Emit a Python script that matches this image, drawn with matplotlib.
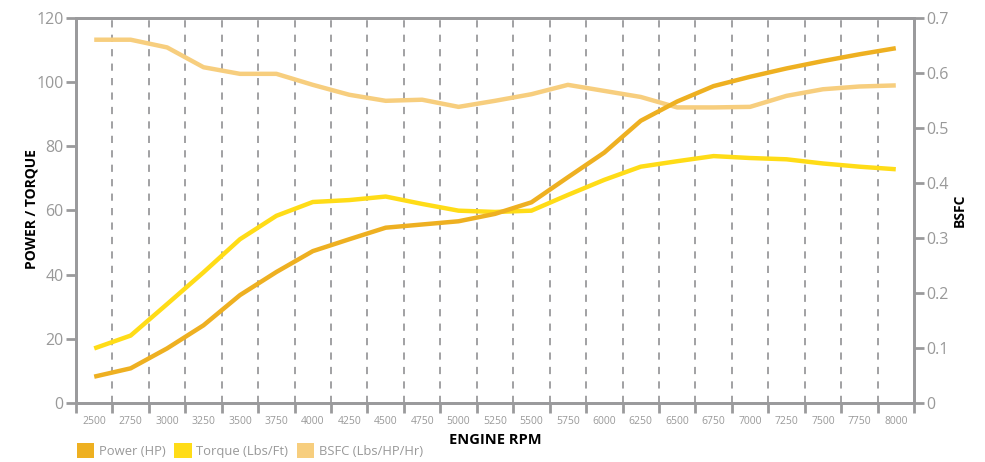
import matplotlib
matplotlib.use("Agg")
import matplotlib.pyplot as plt
from matplotlib.patches import Patch
import numpy as np

rpm = [2500, 2750, 3000, 3250, 3500, 3750, 4000, 4250, 4500, 4750, 5000, 5250,
       5500, 5750, 6000, 6250, 6500, 6750, 7000, 7250, 7500, 7750, 8000]
power = [8.2, 10.8, 17.0, 24.2, 33.6, 40.8, 47.3, 51.0, 54.6, 55.6, 56.6, 58.9,
         62.5, 70.3, 78.0, 87.9, 93.9, 98.7, 101.6, 104.2, 106.5, 108.6, 110.5]
torque = [17.0, 21.0, 30.8, 40.7, 51.0, 58.3, 62.6, 63.2, 64.3, 62.0, 59.9, 59.5,
          59.9, 64.8, 69.5, 73.6, 75.3, 76.9, 76.3, 75.9, 74.6, 73.6, 72.8]
bsfc = [0.660, 0.660, 0.646, 0.610, 0.598, 0.598, 0.578, 0.560, 0.549, 0.551, 0.538, 0.549,
        0.561, 0.578, 0.567, 0.556, 0.537, 0.537, 0.538, 0.558, 0.570, 0.575, 0.577]
left_ticks = [0, 20, 40, 60, 80, 100, 120]
right_ticks = [0, 0.1, 0.2, 0.3, 0.4, 0.5, 0.6, 0.7]
right_labels = ["0", "0.1", "0.2", "0.3", "0.4", "0.5", "0.6", "0.7"]

C_POWER = "#EEB021"
C_TORQUE = "#FFDC17"
C_BSFC = "#F7CE7E"
GRAY = "#9a9a9c"
TXT = "#999999"

plt.rcParams['font.family'] = ['Open Sans', 'DejaVu Sans']

W, H = 985, 462
fig = plt.figure(figsize=(W / 100, H / 100), dpi=100)
L, R, T, B = 76, 914, 17.7, 403
ax = fig.add_axes([L / W, (H - B) / H, (R - L) / W, (B - T) / H])
ax2 = ax.twinx()

n = len(rpm)
x = np.arange(n)

ax2.set_facecolor("#F5F5F5")
ax.patch.set_visible(False)
ax.set_zorder(ax2.get_zorder() + 1)

for b in np.arange(0.5, n - 0.5, 1.0):
    ax2.axvline(b, color=GRAY, lw=1.3, ls=(0, (4, 4)), zorder=0)

ax2.plot(x, bsfc, color=C_BSFC, lw=3.2, solid_capstyle='butt', zorder=2)
ax.plot(x, torque, color=C_TORQUE, lw=3.2, solid_capstyle='butt', zorder=3)
ax.plot(x, power, color=C_POWER, lw=3.2, solid_capstyle='butt', zorder=4)

ax.set_xlim(-0.5, n - 0.5)
ax.set_ylim(0, 120)
ax2.set_ylim(0, 0.7)

ax.set_xticks(np.arange(-0.5, n, 1.0))
ax.set_xticklabels([])
ax.set_xticks(x, minor=True)
ax.set_xticklabels([str(r) for r in rpm], minor=True)
ax.tick_params(axis='x', which='major', length=7, width=2, color=GRAY, direction='out')
ax.tick_params(axis='x', which='minor', length=0, pad=9, labelsize=7.5, labelcolor=TXT)

ax.set_yticks(left_ticks)
ax.set_yticklabels([str(t) for t in left_ticks])
ax.tick_params(axis='y', length=7, width=2, color=GRAY, labelsize=11.5, labelcolor=TXT, pad=2)

ax2.set_yticks(right_ticks)
ax2.set_yticklabels(right_labels)
ax2.tick_params(axis='y', length=7, width=2, color=GRAY, labelsize=11.5, labelcolor=TXT, pad=2)
ax2.tick_params(axis='x', length=0)

for a in (ax, ax2):
    for s in a.spines.values():
        s.set_color(GRAY)
        s.set_linewidth(2)

fig.text(31 / W, 1 - 209 / H, "POWER / TORQUE", rotation=90, ha='center', va='center',
         fontsize=10, fontweight='bold', color='black')
fig.text(960 / W, 1 - 210 / H, "BSFC", rotation=90, ha='center', va='center',
         fontsize=10, fontweight='bold', color='black')
fig.text(495 / W, 1 - 440 / H, "ENGINE RPM", ha='center', va='center',
         fontsize=10.5, fontweight='bold', color='black')

handles = [Patch(facecolor=C_POWER, edgecolor='none'),
           Patch(facecolor=C_TORQUE, edgecolor='none'),
           Patch(facecolor=C_BSFC, edgecolor='none')]
labels = ["Power (HP)", "Torque (Lbs/Ft)", "BSFC (Lbs/HP/Hr)"]
leg = fig.legend(handles, labels, loc='lower left', bbox_to_anchor=(70 / W, -0.005),
                 ncol=3, frameon=False, handlelength=1.35, handleheight=1.35,
                 handletextpad=0.35, columnspacing=0.65, fontsize=9.4,
                 borderaxespad=0.1)
for t in leg.get_texts():
    t.set_color(TXT)

fig.savefig("out.png", dpi=100)
